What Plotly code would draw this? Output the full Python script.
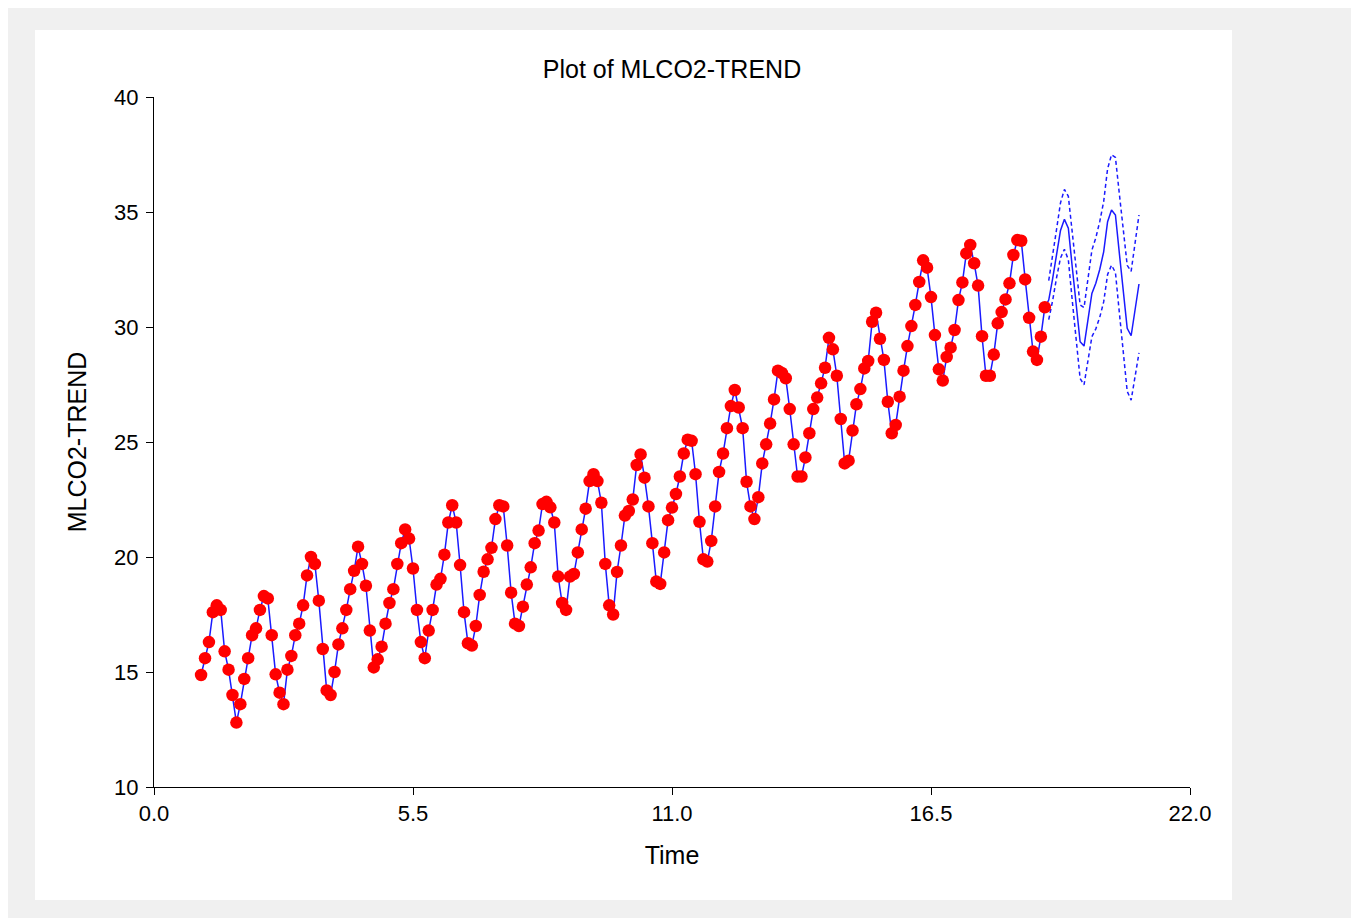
import plotly.graph_objects as go

y01 = [14.87, 15.6, 16.3, 17.6, 17.9, 17.7, 15.9, 15.1, 14.0, 12.8, 13.6, 14.7]
y02 = [15.6, 16.6, 16.9, 17.7, 18.3, 18.2, 16.6, 14.9, 14.1, 13.6, 15.1, 15.7]
y03 = [16.6, 17.1, 17.9, 19.2, 20.0, 19.7, 18.1, 16.0, 14.2, 14.0, 15.0, 16.2]
y04 = [16.9, 17.7, 18.6, 19.4, 20.45, 19.7, 18.75, 16.8, 15.2, 15.55, 16.1, 17.1]
y05 = [18.0, 18.6, 19.7, 20.6, 21.2, 20.8, 19.5, 17.7, 16.3, 15.6, 16.8, 17.7]
y06 = [18.8, 19.05, 20.1, 21.5, 22.25, 21.5, 19.65, 17.6, 16.25, 16.15, 17.0, 18.35]
y07 = [19.36, 19.9, 20.4, 21.65, 22.25, 22.2, 20.5, 18.45, 17.1, 17.0, 17.84, 18.8]
y08 = [19.55, 20.6, 21.15, 22.3, 22.4, 22.16, 21.5, 19.15, 18.0, 17.7, 19.15, 19.26]
y09 = [20.2, 21.2, 22.1, 23.3, 23.6, 23.3, 22.36, 19.7, 17.9, 17.5, 19.35, 20.5]
y10 = [21.8, 22.0, 22.5, 24.0, 24.46, 23.45, 22.2, 20.6, 18.93, 18.83, 20.2, 21.6]
y11 = [22.15, 22.74, 23.5, 24.5, 25.1, 25.05, 23.6, 21.53, 19.9, 19.8, 20.7, 22.2]
y12 = [23.7, 24.5, 25.6, 26.56, 27.26, 26.5, 25.6, 23.27, 22.2, 21.65, 22.6, 24.07]
y13 = [24.9, 25.8, 26.85, 28.1, 28.0, 27.77, 26.43, 24.9, 23.5, 23.5, 24.33, 25.38]
y14 = [26.43, 26.93, 27.55, 28.23, 29.53, 29.03, 27.88, 26.0, 24.07, 24.19, 25.5, 26.64]
y15 = [27.3, 28.2, 28.52, 30.23, 30.62, 29.49, 28.57, 26.75, 25.38, 25.74, 26.97, 28.1]
y16 = [29.17, 30.04, 30.96, 31.96, 32.9, 32.58, 31.3, 29.65, 28.16, 27.67, 28.7, 29.1]
y17 = [29.87, 31.17, 31.94, 33.2, 33.57, 32.77, 31.8, 29.6, 27.88, 27.88, 28.8, 30.16]
y18 = [30.65, 31.2, 31.9, 33.13, 33.78, 33.75, 32.07, 30.4, 28.93, 28.57, 29.58, 30.86]

# Forecast (24 months) with upper / lower limits
forecast = [31.17, 32.1, 33.2, 34.2, 34.68, 34.3, 32.6, 30.9, 29.36, 29.17, 30.3, 31.46,
            31.9, 32.5, 33.27, 34.58, 35.09, 34.87, 33.2, 31.46, 29.94, 29.62, 30.74, 31.87]
upper = [32.02, 33.05, 34.25, 35.4, 35.98, 35.68, 34.05, 32.42, 30.96, 30.85, 32.08, 33.34,
         33.88, 34.58, 35.45, 36.88, 37.49, 37.37, 35.78, 34.12, 32.68, 32.42, 33.62, 34.87]
lower = [30.32, 31.15, 32.15, 33.0, 33.38, 32.92, 31.15, 29.38, 27.76, 27.49, 28.52, 29.58,
         29.92, 30.42, 31.09, 32.28, 32.69, 32.37, 30.62, 28.8, 27.2, 26.82, 27.86, 28.87]

x_ticks = [0.0, 5.5, 11.0, 16.5, 22.0]
x_tick_labels = ["0.0", "5.5", "11.0", "16.5", "22.0"]
y_ticks = [10, 15, 20, 25, 30, 35, 40]

start_time = 1.0
observed = (y01 + y02 + y03 + y04 + y05 + y06 + y07 + y08 + y09 +
            y10 + y11 + y12 + y13 + y14 + y15 + y16 + y17 + y18)
t_obs = [start_time + i / 12 for i in range(len(observed))]
t_fc = [start_time + (len(observed) + i) / 12 for i in range(len(forecast))]

BLUE = "#1a1aff"
fig = go.Figure()
fig.add_trace(go.Scatter(x=t_fc, y=upper, mode="lines",
                         line=dict(color=BLUE, width=1.5, dash="4px,3px"), hoverinfo="skip"))
fig.add_trace(go.Scatter(x=t_fc, y=lower, mode="lines",
                         line=dict(color=BLUE, width=1.5, dash="4px,3px"), hoverinfo="skip"))
fig.add_trace(go.Scatter(x=t_obs + t_fc, y=observed + forecast, mode="lines",
                         line=dict(color=BLUE, width=1.5)))
fig.add_trace(go.Scatter(x=t_obs, y=observed, mode="markers",
                         marker=dict(color="#ff0000", size=12.5, line=dict(width=0))))

FONT = "Liberation Sans, Arial, sans-serif"
W, H = 1359, 918
L, T, PW, PH = 146, 89, 1036, 690
fig.update_layout(
    width=W, height=H,
    paper_bgcolor="#f0f0f0", plot_bgcolor="white",
    margin=dict(l=L, r=W - L - PW, t=T, b=H - T - PH),
    showlegend=False,
    font=dict(family=FONT, color="black", size=22),
    title=dict(text="Plot of MLCO2-TREND", xref="paper", x=0.5, xanchor="center",
               y=1 - 61 / H, yanchor="middle", font=dict(size=25, family=FONT, color="black")),
    shapes=[dict(type="rect", xref="paper", yref="paper", layer="below",
                 x0=(27 - L) / PW, x1=(1224 - L) / PW,
                 y0=-(892 - T - PH) / PH, y1=1 + (T - 22) / PH,
                 fillcolor="white", line=dict(width=0))],
    xaxis=dict(range=[0, 22], tickvals=x_ticks, ticktext=x_tick_labels,
               showgrid=False, zeroline=False, showline=True, linecolor="black", linewidth=1,
               ticks="outside", ticklen=7, tickcolor="black",
               tickfont=dict(size=22, family=FONT),
               title=dict(text="Time", font=dict(size=25, family=FONT), standoff=21)),
    yaxis=dict(range=[10, 40], tickvals=y_ticks,
               showgrid=False, zeroline=False, showline=True, linecolor="black", linewidth=1,
               ticks="outside", ticklen=7, tickcolor="black", ticklabelstandoff=3,
               tickfont=dict(size=22, family=FONT),
               title=dict(text="MLCO2-TREND", font=dict(size=25, family=FONT), standoff=20)),
)

fig.write_html("out.html")
